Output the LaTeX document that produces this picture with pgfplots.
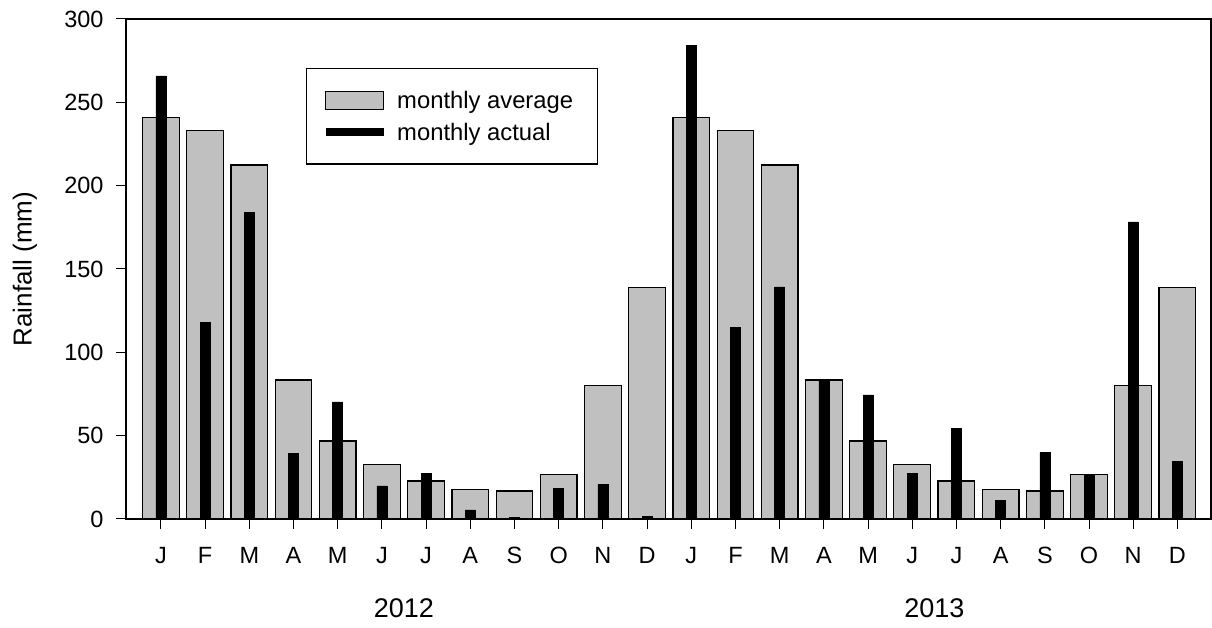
\documentclass[border=0pt]{standalone}
\usepackage{fontspec}
\setmainfont{Liberation Sans}
\usepackage{pgfplots}
\pgfplotsset{compat=1.18}
\definecolor{bargray}{RGB}{192,192,192}
\begin{document}
\begin{tikzpicture}[x=1pt,y=1pt]
\useasboundingbox (-126,-109) rectangle (1086,519);
\begin{axis}[
  at={(0,0)}, anchor=south west, scale only axis,
  width=1085pt, height=500pt,
  xmin=-0.79, xmax=23.76, ymin=0, ymax=300,
  xtick={0,...,23},
  xticklabels={J,F,M,A,M,J,J,A,S,O,N,D,J,F,M,A,M,J,J,A,S,O,N,D},
  ytick={0,50,...,300},
  tick align=outside, xtick pos=bottom, ytick pos=left,
  major tick length=10pt,
  tick style={line width=1pt, black},
  axis line style={line width=1.2pt},
  /pgf/number format/assume math mode=true,
  ticklabel style={font=\fontsize{23.5}{23.5}\selectfont},
  xticklabel style={yshift=-15pt},
  yticklabel style={xshift=-9pt},
  every axis y label/.style={at={(axis description cs:0,0.5)}, xshift=-101pt, rotate=90, anchor=center},
  ylabel={Rainfall (mm)},
  ylabel style={font=\fontsize{26}{26}\selectfont},
  clip=false,
  legend cell align=left,
  legend style={at={(0.166,0.902)}, anchor=north west, draw=black, line width=1.2pt,
    font=\fontsize{23.8}{23.8}\selectfont, inner xsep=15pt, inner ysep=20pt,
    nodes={inner sep=2.5pt}, column sep=7pt, row sep=8pt},
]
\addplot[ybar, bar width=36.7pt, bar shift=0pt, fill=bargray, draw=black, line width=1.2pt,
  legend image code/.code={\draw[fill=bargray,draw=black,line width=1.2pt] (0pt,-9pt) rectangle (58pt,9pt);}]
  coordinates {(0,241) (1,233) (2,212.4) (3,83.4) (4,46.8) (5,32.8) (6,22.8) (7,17.8) (8,16.8) (9,26.8) (10,80.2) (11,138.8)
               (12,241) (13,233) (14,212.4) (15,83.4) (16,46.8) (17,32.8) (18,22.8) (19,17.8) (20,16.8) (21,26.8) (22,80.2) (23,138.8)};
\addlegendentry{\makebox[183pt][l]{monthly average}}
\addplot[ybar, bar width=10pt, bar shift=0pt, fill=black, draw=black, line width=0.4pt,
  legend image code/.code={\draw[line width=8pt,black] (0pt,0pt) -- (58pt,0pt);}]
  coordinates {(0,265.8) (1,118) (2,183.8) (3,39.2) (4,70.2) (5,19.8) (6,27.4) (7,5.4) (8,1) (9,18.4) (10,20.6) (11,1.6)
               (12,284) (13,115) (14,139.2) (15,83.4) (16,74.4) (17,27.4) (18,54.2) (19,11.2) (20,39.8) (21,26.8) (22,178.2) (23,34.4)};
\addlegendentry{\makebox[183pt][l]{monthly actual}}
\node[font=\fontsize{27}{27}\selectfont, yshift=-89pt] at (axis cs:5.5,0) {2012};
\node[font=\fontsize{27}{27}\selectfont, yshift=-89pt] at (axis cs:17.5,0) {2013};
\end{axis}
\end{tikzpicture}
\end{document}
